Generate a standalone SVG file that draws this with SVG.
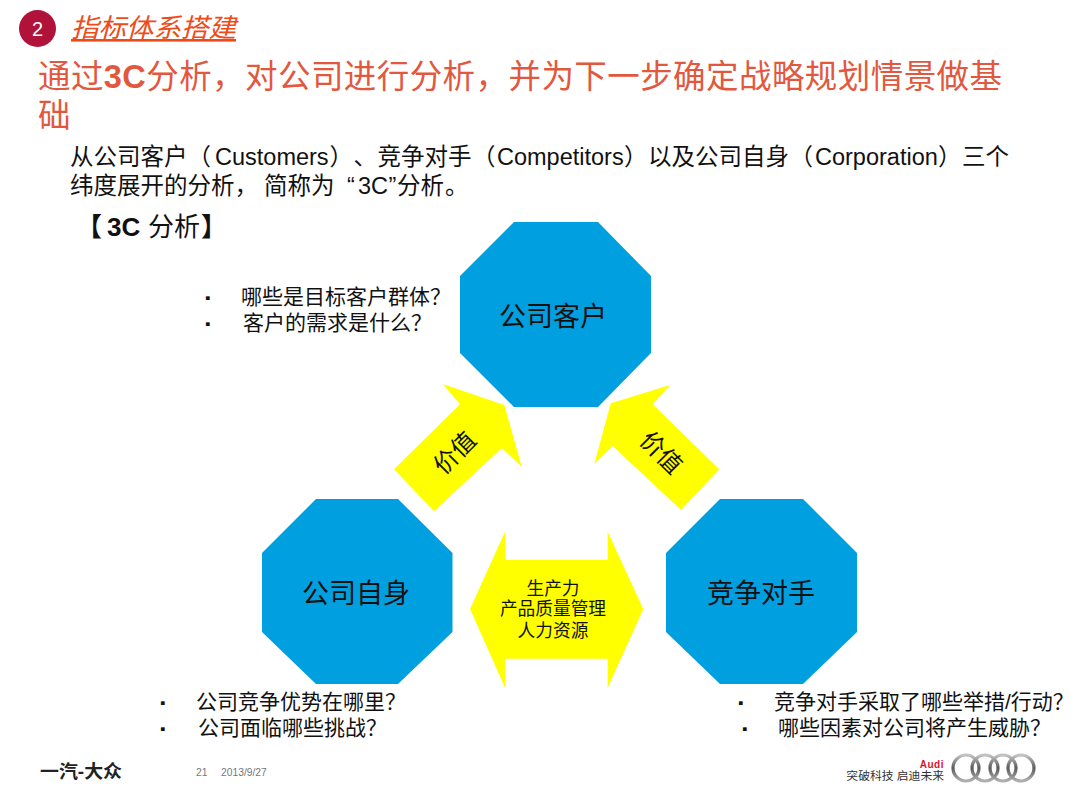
<svg xmlns="http://www.w3.org/2000/svg" width="1080" height="810" viewBox="0 0 1080 810">
<style>
text{font-family:"Liberation Sans","Noto Sans CJK SC",sans-serif;fill:#111}
.oct{fill:#009fdf}
.arr{fill:#ffff00}
.lbl{font-size:27px;text-anchor:middle}
.val{font-size:24px;text-anchor:middle}
.mid{font-size:17.700px;text-anchor:middle}
.q{font-size:21px}
.b{font-size:15px}
.red{fill:#e2583e}
.body{font-size:23.500px}
.foot{font-size:10.300px;fill:#777}
.ring{fill:none;stroke:url(#metal);stroke-width:3.200}
</style>
<defs><linearGradient id="metal" x1="0" y1="0" x2="0" y2="1"><stop offset="0" stop-color="#c4c4c4"/><stop offset=".5" stop-color="#5a5a5a"/><stop offset="1" stop-color="#b0b0b0"/></linearGradient></defs>
<rect width="1080" height="810" fill="#fff"/>
<g id="header">
<circle cx="37.500" cy="28.500" r="18.500" fill="#b01239"/>
<text x="37.500" y="36" font-size="20" text-anchor="middle" style="fill:#fff">2</text>
<text x="71" y="37" font-size="26" font-style="italic" textLength="165" lengthAdjust="spacingAndGlyphs" style="fill:#f04a18" text-decoration="underline">指标体系搭建</text>
<text class="red" x="38" y="88" font-size="32.500" textLength="964" lengthAdjust="spacing"><tspan>通过</tspan><tspan font-weight="bold">3C</tspan><tspan>分析，对公司进行分析，并为下一步确定战略规划情景做基</tspan></text>
<text class="red" x="38" y="127" font-size="32.500">础</text>
<text class="body" y="165"><tspan x="70">从公司客户（</tspan><tspan x="215">Customers</tspan><tspan x="329.500">）</tspan><tspan x="353.500">、</tspan><tspan x="377.500">竞争对手</tspan><tspan x="472">（</tspan><tspan x="497">Competitors</tspan><tspan x="624">）</tspan><tspan x="648">以及公司自身</tspan><tspan x="789.500">（</tspan><tspan x="815">Corporation</tspan><tspan x="938">）</tspan><tspan x="962">三个</tspan></text>
<text class="body" y="194"><tspan x="70">纬度展开的分析，</tspan><tspan x="264">简称为</tspan><tspan x="347">“</tspan><tspan x="358">3C</tspan><tspan x="388.500">”</tspan><tspan x="397">分析</tspan><tspan x="445">。</tspan></text>
<text y="236" font-size="26"><tspan x="76" font-weight="bold">【</tspan><tspan x="107" font-weight="bold">3C</tspan><tspan x="148">分析</tspan><tspan x="201" font-weight="bold">】</tspan></text>
</g>
<g id="connectors">
<g id="arrow-left"><polygon class="arr" points="394,469.300 460,404.300 442.700,384 504.300,405 521.700,466.700 501.700,448 434,511.300"/><text class="val" transform="translate(455,453) rotate(-45)" y="8">价值</text></g>
<g id="arrow-right"><polygon class="arr" points="719.300,469.300 652.700,404.300 670,385 610.700,403.300 594.300,464 612.700,446 681,510"/><text class="val" transform="translate(661,453) rotate(45)" y="8">价值</text></g>
<g id="arrow-both"><polygon class="arr" points="470,609 505,531.700 505,560 607.700,560 607.700,531.700 643.300,609 607.700,687.700 607.700,658.700 505,658.700 505,687.700"/>
<text class="mid" x="553" y="595">生产力</text><text class="mid" x="553" y="615">产品质量管理</text><text class="mid" x="553" y="637">人力资源</text></g>
</g>
<g id="node-customer"><polygon class="oct" points="514,222 598,222 651,276 651,353 598,407 514,407 460,353 460,276"/><text class="lbl" x="553" y="326">公司客户</text></g>
<g id="node-self"><polygon class="oct" points="316,499 398,499 452.500,553 452.500,632 398,684 316,684 262,632 262,553"/><text class="lbl" x="356" y="603">公司自身</text></g>
<g id="node-competitor"><polygon class="oct" points="720,499 803,499 857,553 857,632 803,684 720,684 666,632 666,553"/><text class="lbl" x="761" y="603">竞争对手</text></g>
<g id="questions">
<text class="b" x="205" y="303">▪</text><text class="q" x="241" y="304">哪些是目标客户群体？</text>
<text class="b" x="205" y="329">▪</text><text class="q" x="243" y="330">客户的需求是什么？</text>
<text class="b" x="160" y="708">▪</text><text class="q" x="196" y="709">公司竞争优势在哪里？</text>
<text class="b" x="160" y="734">▪</text><text class="q" x="198" y="735">公司面临哪些挑战？</text>
<text class="b" x="738" y="708">▪</text><text class="q" x="774" y="709">竞争对手采取了哪些举措/行动？</text>
<text class="b" x="742" y="734">▪</text><text class="q" x="778" y="735">哪些因素对公司将产生威胁？</text>
</g>
<g id="footer">
<text x="40" y="778" font-size="18" font-weight="bold" textLength="82" lengthAdjust="spacingAndGlyphs" style="fill:#222">一汽-大众</text>
<text class="foot" x="196" y="776">21</text><text class="foot" x="221" y="776">2013/9/27</text>
<text x="944" y="768" font-size="10" font-weight="bold" text-anchor="end" style="fill:#d8132f" letter-spacing="0.500">Audi</text>
<text x="944" y="780" font-size="11.800" text-anchor="end" style="fill:#333">突破科技 启迪未来</text>
<circle class="ring" cx="966" cy="768" r="13"/><circle class="ring" cx="985" cy="768" r="13"/><circle class="ring" cx="1003" cy="768" r="13"/><circle class="ring" cx="1021" cy="768" r="13"/>
</g>
</svg>
